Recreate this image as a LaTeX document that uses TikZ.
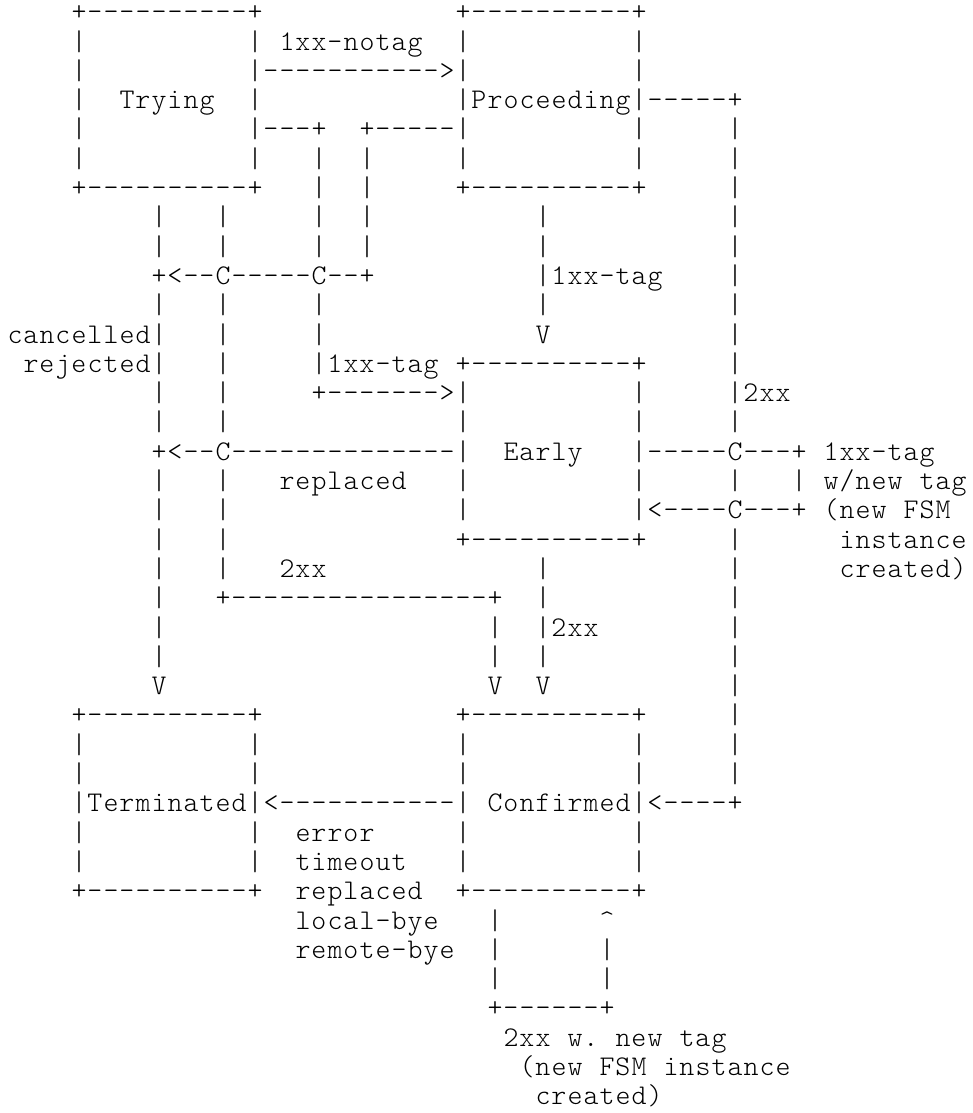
\documentclass[tikz,border=0pt]{standalone}
\usepackage{fontspec}
\setmonofont{lmmonolt10-regular.otf}[LetterSpace=3.65]
\frenchspacing
\tikzset{asc/.style={anchor=base west, inner sep=0pt, outer sep=0pt,
  font=\ttfamily\fontsize{28.5}{30}\selectfont}}
\newcommand\aseg[3]{\node[asc] (r#1c#2) at ({7.5+16*#2},{1092.2-29.3*#1}) {#3};}
\begin{document}
\begin{tikzpicture}[x=1pt,y=1pt]
\fill[white] (0,0) rectangle (973,1113);
\useasboundingbox (0,0) rectangle (973,1113);
% row 0
\aseg{0}{4}{+----------+}\aseg{0}{28}{+----------+}
% row 1
\aseg{1}{4}{|}\aseg{1}{15}{|}\aseg{1}{17}{1xx-notag}\aseg{1}{28}{|}\aseg{1}{39}{|}
% row 2
\aseg{2}{4}{|}\aseg{2}{15}{|----------->|}\aseg{2}{39}{|}
% row 3
\aseg{3}{4}{|}\aseg{3}{7}{Trying}\aseg{3}{15}{|}\aseg{3}{28}{|Proceeding|-----+}
% row 4
\aseg{4}{4}{|}\aseg{4}{15}{|---+}\aseg{4}{22}{+-----|}\aseg{4}{39}{|}\aseg{4}{45}{|}
% row 5
\aseg{5}{4}{|}\aseg{5}{15}{|}\aseg{5}{19}{|}\aseg{5}{22}{|}\aseg{5}{28}{|}\aseg{5}{39}{|}\aseg{5}{45}{|}
% row 6
\aseg{6}{4}{+----------+}\aseg{6}{19}{|}\aseg{6}{22}{|}\aseg{6}{28}{+----------+}\aseg{6}{45}{|}
% rows 7-8
\aseg{7}{9}{|}\aseg{7}{13}{|}\aseg{7}{19}{|}\aseg{7}{22}{|}\aseg{7}{33}{|}\aseg{7}{45}{|}
\aseg{8}{9}{|}\aseg{8}{13}{|}\aseg{8}{19}{|}\aseg{8}{22}{|}\aseg{8}{33}{|}\aseg{8}{45}{|}
% row 9
\aseg{9}{9}{+<--C-----C--+}\aseg{9}{33}{|1xx-tag}\aseg{9}{45}{|}
% row 10
\aseg{10}{9}{|}\aseg{10}{13}{|}\aseg{10}{19}{|}\aseg{10}{33}{|}\aseg{10}{45}{|}
% row 11
\aseg{11}{0}{cancelled|}\aseg{11}{13}{|}\aseg{11}{19}{|}\aseg{11}{33}{V}\aseg{11}{45}{|}
% row 12
\aseg{12}{1}{rejected|}\aseg{12}{13}{|}\aseg{12}{19}{|1xx-tag}\aseg{12}{28}{+----------+}\aseg{12}{45}{|}
% row 13
\aseg{13}{9}{|}\aseg{13}{13}{|}\aseg{13}{19}{+------->|}\aseg{13}{39}{|}\aseg{13}{45}{|2xx}
% row 14
\aseg{14}{9}{|}\aseg{14}{13}{|}\aseg{14}{28}{|}\aseg{14}{39}{|}\aseg{14}{45}{|}
% row 15
\aseg{15}{9}{+<--C--------------|}\aseg{15}{31}{Early}\aseg{15}{39}{|-----C---+}\aseg{15}{51}{1xx-tag}
% row 16
\aseg{16}{9}{|}\aseg{16}{13}{|}\aseg{16}{17}{replaced}\aseg{16}{28}{|}\aseg{16}{39}{|}\aseg{16}{45}{|}\aseg{16}{49}{|}\aseg{16}{51}{w/new}\aseg{16}{57}{tag}
% row 17
\aseg{17}{9}{|}\aseg{17}{13}{|}\aseg{17}{28}{|}\aseg{17}{39}{|<----C---+}\aseg{17}{51}{(new}\aseg{17}{56}{FSM}
% row 18
\aseg{18}{9}{|}\aseg{18}{13}{|}\aseg{18}{28}{+----------+}\aseg{18}{45}{|}\aseg{18}{52}{instance}
% row 19
\aseg{19}{9}{|}\aseg{19}{13}{|}\aseg{19}{17}{2xx}\aseg{19}{33}{|}\aseg{19}{45}{|}\aseg{19}{52}{created)}
% row 20
\aseg{20}{9}{|}\aseg{20}{13}{+----------------+}\aseg{20}{33}{|}\aseg{20}{45}{|}
% row 21
\aseg{21}{9}{|}\aseg{21}{30}{|}\aseg{21}{33}{|2xx}\aseg{21}{45}{|}
% row 22
\aseg{22}{9}{|}\aseg{22}{30}{|}\aseg{22}{33}{|}\aseg{22}{45}{|}
% row 23
\aseg{23}{9}{V}\aseg{23}{30}{V}\aseg{23}{33}{V}\aseg{23}{45}{|}
% row 24
\aseg{24}{4}{+----------+}\aseg{24}{28}{+----------+}\aseg{24}{45}{|}
% rows 25-26
\aseg{25}{4}{|}\aseg{25}{15}{|}\aseg{25}{28}{|}\aseg{25}{39}{|}\aseg{25}{45}{|}
\aseg{26}{4}{|}\aseg{26}{15}{|}\aseg{26}{28}{|}\aseg{26}{39}{|}\aseg{26}{45}{|}
% row 27
\aseg{27}{4}{|Terminated|<-----------|}\aseg{27}{30}{Confirmed}\aseg{27}{39}{|<----+}
% row 28
\aseg{28}{4}{|}\aseg{28}{15}{|}\aseg{28}{18}{error}\aseg{28}{28}{|}\aseg{28}{39}{|}
% row 29
\aseg{29}{4}{|}\aseg{29}{15}{|}\aseg{29}{18}{timeout}\aseg{29}{28}{|}\aseg{29}{39}{|}
% row 30
\aseg{30}{4}{+----------+}\aseg{30}{18}{replaced}\aseg{30}{28}{+----------+}
% row 31
\aseg{31}{18}{local-bye}\aseg{31}{30}{|}\aseg{31}{37}{\textasciicircum}
% row 32
\aseg{32}{18}{remote-bye}\aseg{32}{30}{|}\aseg{32}{37}{|}
% row 33
\aseg{33}{30}{|}\aseg{33}{37}{|}
% row 34
\aseg{34}{30}{+------+}
% rows 35-37
\aseg{35}{31}{2xx}\aseg{35}{35}{w.}\aseg{35}{38}{new}\aseg{35}{42}{tag}
\aseg{36}{32}{(new}\aseg{36}{37}{FSM}\aseg{36}{41}{instance}
\aseg{37}{33}{created)}
\end{tikzpicture}
\end{document}
